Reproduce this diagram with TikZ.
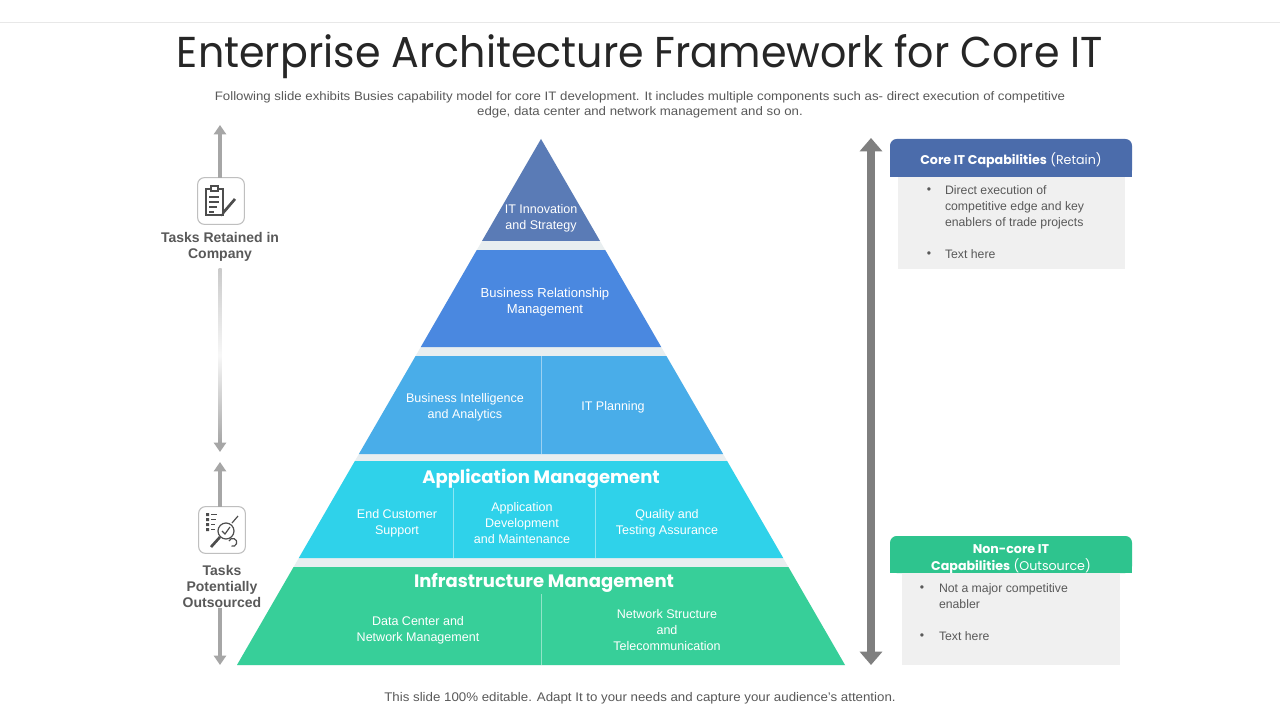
\documentclass[tikz,border=0pt]{standalone}
\usepackage{fontspec}
\setmainfont{Liberation Sans}
\newfontfamily\gothic{Poppins}
\usetikzlibrary{arrows.meta,positioning,calc}
\definecolor{tierone}{HTML}{5A7BB6}
\definecolor{tiertwo}{HTML}{4A88E0}
\definecolor{tierthree}{HTML}{49ADE9}
\definecolor{tierfour}{HTML}{2FD2EA}
\definecolor{tierfive}{HTML}{37CF99}
\definecolor{gapgray}{HTML}{E8EEF0}
\definecolor{coreblue}{HTML}{4B6CAB}
\definecolor{noncoregreen}{HTML}{2EC48E}
\definecolor{boxgray}{HTML}{F0F0F0}
\definecolor{txtgray}{HTML}{595959}
\definecolor{arrowgray}{HTML}{7F7F7F}
\definecolor{lightarrow}{HTML}{A6A6A6}
\definecolor{icongray}{HTML}{4D4D4D}
\begin{document}
\begin{tikzpicture}[x=0.75pt, y=-0.75pt, inner sep=0pt, outer sep=0pt,
  tiertext/.style={text=white, align=center, font=\fontsize{9.4}{12}\selectfont},
  tierhead/.style={text=white, font=\gothic\bfseries\fontsize{13.5}{16}\selectfont},
  sidelabel/.style={text=txtgray, align=center, font=\bfseries\fontsize{10.5}{12}\selectfont},
  iconbox/.style={draw=gray!50, line width=0.8pt, fill=white, rounded corners=5pt, minimum width=35pt, minimum height=35pt},
  icon/.style={draw=icongray, line width=0.9pt},
  sidearrow/.style={draw=lightarrow, line width=3pt, -{Triangle[width=9pt,length=7pt]}},
  bigarrow/.style={draw=arrowgray, line width=6pt, {Triangle[width=16.5pt,length=10pt]}-{Triangle[width=16.5pt,length=10pt]}},
  headfont/.style={text=white, align=center, font=\gothic\fontsize{9.5}{12.5}\selectfont},
  bullettext/.style={text=txtgray, align=left, anchor=north west, font=\fontsize{9.2}{12}\selectfont},
  bulletdot/.style={text=txtgray, anchor=center, font=\fontsize{9.2}{12}\selectfont},
  divider/.style={draw=white, draw opacity=0.45, line width=0.6pt}]
\useasboundingbox[fill=white] (0,0) rectangle (1280,720);
\draw[gray!18, line width=0.75pt] (0,23) -- (1280,23);
% title and subtitle
\node[anchor=base, text=black!85] (title) at (640,68) {\resizebox{694.5pt}{24.75pt}{\gothic Enterprise Architecture Framework for Core IT}};
\node[text=txtgray, align=center, font=\fontsize{9.2}{11.25}\selectfont] (subtitle) at (640,104.5) {\scalebox{1.08}[1]{Following slide exhibits Busies capability model for core IT development.  It includes multiple components such as- direct execution of competitive}\\\scalebox{1.08}[1]{edge, data center and network management and so on.}};
% pyramid
\fill[gapgray] (541,139) -- (845,665) -- (237,665) -- cycle;
\fill[tierone] (541,139) -- (600,241) -- (482,241) -- cycle;
\fill[tiertwo] (476.8,250) -- (605.2,250) -- (661.2,347) -- (420.8,347) -- cycle;
\fill[tierthree] (415.6,356) -- (666.4,356) -- (723.1,454) -- (358.9,454) -- cycle;
\fill[tierfour] (354.9,461) -- (727.1,461) -- (783.2,558) -- (298.8,558) -- cycle;
\fill[tierfive] (293.6,567) -- (788.4,567) -- (845,665) -- (237,665) -- cycle;
\draw[divider] (541,356) -- (541,454);
\draw[divider] (453,488) -- (453,558);
\draw[divider] (595,488) -- (595,558);
\draw[divider] (541,594) -- (541,665);
\node[tiertext] (innov) at (541,218) {IT Innovation\\and Strategy};
\node[tiertext, font=\fontsize{9.8}{12}\selectfont] (brm) at (545,302) {Business Relationship\\Management};
\node[tiertext] (bia) at (465,407) {Business Intelligence\\and Analytics};
\node[tiertext] (plan) at (613,407) {IT Planning};
\node[tierhead] (apphead) at (541,479) {Application Management};
\node[tiertext] (ecs) at (397,523) {End Customer\\Support};
\node[tiertext] (adm) at (522,523) {Application\\Development\\and Maintenance};
\node[tiertext] (qta) at (667,523) {Quality and\\Testing Assurance};
\node[tierhead] (infhead) at (544,583) {Infrastructure Management};
\node[tiertext] (dcn) at (418,630) {Data Center and\\Network Management};
\node[tiertext] (nst) at (667,630) {Network Structure\\and\\Telecommunication};
% left side
\coordinate (retaintop) at (220,125);
\coordinate (retainmid) at (220,442);
\coordinate (retainbot) at (220,452);
\coordinate (sourcetop) at (220,462);
\coordinate (sourcebot) at (220,665);
\node[iconbox] (retainicon) at (221,201) {};
\node[sidelabel] (retainlbl) at (220,247) {Tasks Retained in\\Company};
\draw[sidearrow] (retainicon.north -| retaintop) -- (retaintop);
\shade[top color=lightarrow!60, bottom color=lightarrow, middle color=gray!6] (218.5,268) rectangle (221.5,443);
\draw[sidearrow] (retainmid) -- (retainbot);
\draw[sidearrow] (220,590) -- (sourcebot);
\node[iconbox] (sourceicon) at (222,530) {};
\node[sidelabel, fill=white, inner sep=1pt] (sourcelbl) at (222,586) {Tasks\\Potentially\\Outsourced};
\draw[sidearrow] (sourceicon.north -| sourcetop) -- (sourcetop);
% clipboard icon
\draw[icon] (206,189) rectangle (223,215);
\draw[icon, fill=white] (211,186) rectangle (218,191);
\draw[icon] (209,197) -- (219,197) (209,202) -- (219,202) (209,207) -- (217,207) (209,212) -- (214,212);
\draw[icon, line width=2pt] (223,213) -- (235,199);
\draw[icon] (221,216) -- (223,213);
% search icon
\fill[icongray] (206,513) rectangle (209,516) (206,518) rectangle (209,521) (206,523) rectangle (209,526) (206,528) rectangle (209,531);
\draw[icon] (211,514.5) -- (217,514.5) (211,519.5) -- (216,519.5) (211,524.5) -- (215,524.5) (211,529.5) -- (215,529.5);
\draw[icon] (226,531) circle (8);
\draw[icon, line width=2pt] (220,537) -- (211,547);
\draw[icon] (222,531) -- (225,534) -- (230,527);
\draw[icon] (229,541) arc (200:470:4);
\draw[icon] (232,523) -- (238,516);
% right side
\coordinate (bigtop) at (871,138);
\coordinate (bigbot) at (871,665);
\draw[bigarrow] (bigtop) -- (bigbot);
\fill[coreblue, rounded corners=5pt] (890,139) rectangle (1132,177);
\fill[coreblue] (890,165) rectangle (1132,177);
\node[headfont] (corehead) at (1011,160) {\textbf{Core IT Capabilities} (Retain)};
\fill[boxgray] (898,177) rectangle (1125,269);
\node[bulletdot] (corebulletA) at (929,190.5) {•};
\node[bullettext] (coretextA) at (945,186) {Direct execution of\\competitive edge and key\\enablers of trade projects};
\node[bulletdot] (corebulletB) at (929,254.5) {•};
\node[bullettext] (coretextB) at (945,250) {Text here};
\fill[noncoregreen, rounded corners=5pt] (890,536) rectangle (1132,573);
\fill[noncoregreen] (890,562) rectangle (1132,573);
\node[headfont] (noncorehead) at (1011,559) {\textbf{Non-core IT}\\\textbf{Capabilities} (Outsource)};
\fill[boxgray] (902,573) rectangle (1120,665);
\node[bulletdot] (noncorebulletA) at (922,588.5) {•};
\node[bullettext] (noncoretextA) at (939,584) {Not a major competitive\\enabler};
\node[bulletdot] (noncorebulletB) at (922,636.5) {•};
\node[bullettext] (noncoretextB) at (939,632) {Text here};
% footer
\node[text=txtgray, font=\fontsize{9.4}{11}\selectfont] (footer) at (640,698) {\scalebox{1.06}[1]{This slide 100\% editable.  Adapt  It to your needs and capture your audience's attention.}};
\end{tikzpicture}
\end{document}
